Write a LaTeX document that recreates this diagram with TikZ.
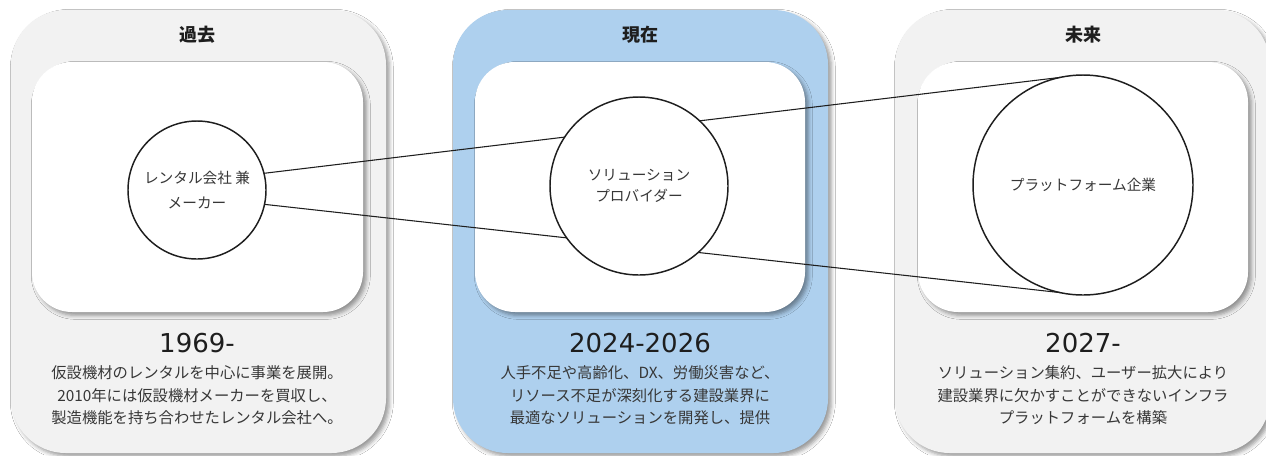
\documentclass[tikz,border=0pt]{standalone}
\usepackage{fontspec}
\setmainfont{Noto Sans CJK JP}
\newfontfamily\yearfont{DejaVu Sans}
\usetikzlibrary{shadows.blur}
\definecolor{panelgray}{RGB}{242,242,242}
\definecolor{panelblue}{RGB}{174,208,238}
\definecolor{txt}{RGB}{55,55,55}
\definecolor{ink}{RGB}{30,30,30}
\tikzset{
  shad/.style={blur shadow={shadow xshift=2.5pt, shadow yshift=-2.5pt, shadow blur radius=3pt, shadow opacity=40}},
  outerpanel/.style={rounded corners=41pt, shad},
  innerpanel/.style={fill=white, rounded corners=30pt, shad},
  titletext/.style={font=\fontsize{13.5}{16}\selectfont\bfseries, text=ink},
  yeartext/.style={font=\yearfont\fontsize{19.5}{22}\selectfont, text=ink},
  bodytext/.style={font=\fontsize{11.5}{16.8}\selectfont, text=txt, align=center},
  bubble/.style={circle, draw=ink, line width=1.1pt, fill=white, outer sep=0pt, inner sep=0pt,
                 text=txt, align=center},
  conn/.style={draw=ink, line width=0.8pt}
}
\begin{document}
\begin{tikzpicture}[x=0.75pt,y=-0.75pt]
\useasboundingbox (0,0) rectangle (1266,455);
\clip (0,0) rectangle (1266,455);
\fill[white] (0,0) rectangle (1266,455);
% outer panels
\fill[panelgray, outerpanel] (11,10) rectangle (386,453);
\fill[panelblue, outerpanel] (453,10) rectangle (828,453);
\fill[panelgray, outerpanel] (895,10) rectangle (1270,453);
% inner panels
\fill[innerpanel] (32,62) rectangle (363,312);
\fill[innerpanel] (475,62) rectangle (805,312);
\fill[innerpanel] (918,62) rectangle (1248,312);
% titles
\node[titletext] (t1) at (197,35) {過去};
\node[titletext] (t2) at (640,35) {現在};
\node[titletext] (t3) at (1083,35) {未来};
% circles
\node[bubble, minimum size=103.5pt, font=\fontsize{11}{18.5}\selectfont] (c1) at (197,190) {レンタル会社 兼\\メーカー};
\node[bubble, minimum size=165pt, font=\fontsize{11}{16}\selectfont] (c3) at (1083,185) {プラットフォーム企業};
% connectors
\draw[conn] (c1.14) -- (c3.102);
\draw[conn] (c1.-12) -- (c3.-102);
\node[bubble, minimum size=133.5pt, font=\fontsize{11}{15.75}\selectfont] (c2) at (639,186) {ソリューション\\プロバイダー};
% years
\node[yeartext] (y1) at (197,343) {1969-};
\node[yeartext] (y2) at (640,343) {2024-2026};
\node[yeartext] (y3) at (1083,343) {2027-};
% descriptions
\node[bodytext, anchor=north] (d1) at (197,361) {仮設機材のレンタルを中心に事業を展開。\\2010年には仮設機材メーカーを買収し、\\製造機能を持ち合わせたレンタル会社へ。};
\node[bodytext, anchor=north] (d2) at (640,361) {人手不足や高齢化、DX、労働災害など、\\リソース不足が深刻化する建設業界に\\最適なソリューションを開発し、提供};
\node[bodytext, anchor=north] (d3) at (1083,361) {ソリューション集約、ユーザー拡大により\\建設業界に欠かすことができないインフラ\\プラットフォームを構築};
\end{tikzpicture}
\end{document}
